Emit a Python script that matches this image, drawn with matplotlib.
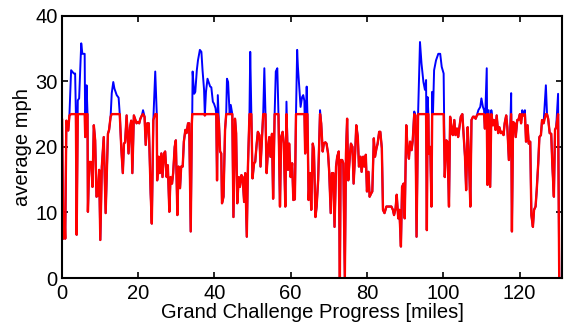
import matplotlib
matplotlib.use("Agg")
import matplotlib.pyplot as plt

# progress along the course (miles) and the two speed traces (mph)
miles = [0.0, 0.05, 0.4, 0.7, 0.9, 1.2, 1.7, 2.0, 2.45, 3.15, 3.5, 3.7, 3.9, 4.2, 4.55,
         5.1, 5.4, 6.0, 6.15, 6.5, 6.75, 6.85, 7.2, 7.7, 8.05, 8.4, 8.75, 9.1, 9.45,
         9.8, 10.1, 10.5, 11.0, 11.5, 12.1, 12.4, 12.8, 13.1, 13.5, 13.8, 14.4, 14.9,
         15.2, 15.6, 16.0, 16.3, 16.6, 17.0, 17.5, 17.9, 18.2, 18.5, 18.9, 19.2, 19.6,
         19.9, 20.3, 20.6, 21.0, 21.3, 21.7, 22.0, 22.4, 22.8, 23.3, 23.6, 24.0, 24.5,
         24.9, 25.0, 25.4, 25.7, 26.1, 26.4, 26.8, 27.1, 27.5, 27.8, 28.2, 28.5, 28.9,
         29.2, 29.6, 29.9, 30.3, 30.6, 31.0, 31.3, 31.7, 32.0, 32.4, 32.7, 33.1, 33.4,
         33.8, 34.1, 34.2, 34.3, 34.7, 35.0, 35.4, 35.7, 36.2, 36.6, 36.9, 37.3, 37.5,
         37.8, 38.2, 38.5, 38.9, 39.2, 39.6, 39.9, 40.3, 40.5, 40.7, 40.9, 41.2, 41.5,
         41.8, 42.0, 42.4, 42.8, 43.1, 43.3, 43.6, 44.0, 44.3, 44.7, 45.0, 45.4, 45.7,
         46.0, 46.4, 46.7, 47.1, 47.4, 47.8, 48.1, 48.5, 48.8, 49.2, 49.4, 49.7, 50.0,
         50.4, 50.7, 51.1, 51.4, 51.8, 52.1, 52.5, 52.8, 53.1, 53.4, 53.7, 54.1, 54.4,
         54.7, 55.1, 55.4, 55.8, 56.1, 56.5, 56.8, 57.2, 57.5, 57.9, 58.2, 58.6, 58.9,
         59.3, 59.6, 60.0, 60.4, 60.7, 61.1, 61.4, 61.7, 61.9, 62.3, 62.6, 63.0, 63.3,
         63.6, 63.8, 64.0, 64.2, 64.4, 64.7, 65.1, 65.4, 65.8, 66.1, 66.5, 66.8, 67.2,
         67.7, 68.0, 68.4, 68.7, 69.1, 69.4, 69.8, 70.1, 70.5, 70.8, 71.2, 71.5, 71.9,
         72.2, 72.6, 72.9, 73.1, 73.5, 73.8, 74.2, 74.5, 74.8, 75.1, 75.5, 75.8, 76.2,
         76.5, 76.9, 77.2, 77.6, 77.9, 78.3, 78.6, 79.0, 79.3, 79.7, 80.0, 80.4, 80.7,
         81.1, 81.4, 81.8, 82.1, 82.5, 82.8, 83.2, 83.5, 83.9, 84.2, 84.6, 85.1, 86.4,
         86.8, 87.1, 87.5, 87.8, 88.2, 88.5, 88.9, 89.2, 89.6, 89.9, 90.3, 90.6, 91.0,
         91.3, 91.7, 92.0, 92.4, 92.7, 93.0, 93.4, 93.9, 94.3, 94.8, 95.2, 95.5, 95.7,
         95.9, 96.1, 96.2, 96.6, 96.9, 97.1, 97.3, 97.6, 98.1, 98.7, 99.2, 99.6, 100.1,
         100.4, 100.8, 101.1, 101.5, 101.8, 102.2, 102.5, 102.9, 103.2, 103.6, 103.9,
         104.3, 104.6, 105.0, 105.3, 105.7, 106.0, 106.4, 106.7, 107.1, 107.4, 107.8,
         108.1, 108.5, 108.8, 109.2, 109.7, 110.0, 110.4, 110.7, 110.9, 111.4, 111.6,
         111.9, 112.3, 112.6, 113.0, 113.3, 113.7, 114.0, 114.4, 114.7, 115.1, 115.4,
         115.8, 116.1, 116.5, 116.8, 117.2, 117.5, 117.8, 118.0, 118.3, 118.7, 119.0,
         119.4, 119.7, 120.1, 120.4, 120.7, 121.0, 121.4, 121.7, 122.1, 122.4, 122.8,
         123.1, 123.5, 123.8, 124.2, 124.5, 124.9, 125.2, 125.6, 125.9, 126.3, 126.9,
         127.2, 127.5, 127.9, 128.3, 128.6, 129.0, 129.3, 129.6, 130.1, 130.3, 130.4]

avg_mph = [0, 24.3, 6.0, 9.5, 6.0, 24.0, 22.5, 24.8, 31.7, 31.2, 31.2, 25.0, 6.6, 27.1, 27.4,
           35.8, 34.2, 34.2, 21.5, 29.4, 25.0, 10.1, 17.7, 17.7, 13.9, 23.3, 21.0, 12.4, 12.6,
           16.5, 5.8, 17.0, 21.5, 9.9, 22.0, 22.6, 24.6, 28.2, 29.9, 28.9, 27.9, 27.5,
           25.0, 19.8, 16.0, 20.5, 20.7, 24.8, 19.0, 23.0, 24.0, 16.0, 24.8, 24.3, 23.6,
           23.8, 23.6, 24.3, 24.8, 25.6, 24.6, 20.3, 23.6, 23.6, 12.9, 8.3, 24.1, 31.5,
           25.0, 14.9, 18.5, 16.0, 19.0, 15.4, 19.0, 19.3, 15.4, 17.2, 10.1, 15.4, 14.4,
           16.0, 20.0, 21.0, 9.6, 17.0, 13.7, 17.0, 17.0, 20.8, 22.6, 22.1, 23.6, 23.6,
           7.1, 23.6, 25.0, 31.5, 28.1, 28.4, 31.7, 33.2, 34.8, 34.5, 31.7, 28.7, 24.8,
           28.4, 30.4, 29.9, 29.2, 29.1, 26.9, 26.6, 25.9, 25.0, 14.9, 27.9, 23.6, 19.3,
           19.0, 11.4, 12.4, 22.6, 25.0, 30.4, 29.9, 25.0, 26.4, 25.0, 9.3, 24.3, 22.1,
           11.4, 15.4, 13.9, 15.7, 15.4, 11.6, 16.0, 6.3, 17.0, 25.0, 34.5, 25.0, 15.2,
           17.5, 17.7, 20.5, 22.3, 21.8, 17.0, 21.5, 25.0, 32.0, 25.0, 16.0, 20.0, 21.5,
           18.5, 22.0, 12.1, 25.0, 31.5, 32.0, 25.0, 10.9, 21.5, 22.3, 20.5, 10.9, 26.9,
           16.5, 20.5, 15.4, 17.5, 11.9, 12.0, 25.0, 34.8, 32.2, 28.7, 26.1, 27.6, 27.9,
           27.0, 19.0, 25.0, 29.2, 25.0, 11.9, 16.0, 10.4, 20.5, 19.5, 9.3, 10.9, 14.9,
           25.6, 23.6, 19.3, 20.5, 20.7, 20.5, 19.0, 16.2, 9.9, 16.0, 16.0, 7.8, 17.0,
           18.5, 19.3, 0, 18.0, 18.0, 17.5, 0, 19.0, 24.3, 14.9, 18.5, 20.5, 20.0,
           14.4, 19.0, 23.3, 21.5, 17.0, 18.5, 16.2, 18.5, 17.0, 18.8, 13.2, 16.2, 12.4,
           12.9, 13.2, 21.3, 18.5, 19.8, 20.5, 22.3, 22.3, 19.8, 10.4, 9.9, 10.9, 10.9,
           10.4, 9.6, 10.6, 12.7, 9.1, 10.4, 4.8, 13.9, 14.4, 9.1, 23.3, 20.0, 18.2,
           20.8, 19.5, 21.0, 25.4, 24.8, 6.3, 25.0, 36.0, 32.7, 29.9, 28.7, 30.2, 7.3,
           27.6, 25.0, 19.0, 20.0, 10.9, 28.4, 25.0, 31.7, 33.2, 34.2, 34.2, 32.2, 31.2,
           15.4, 21.0, 20.8, 10.9, 24.6, 22.6, 21.8, 24.1, 21.8, 22.8, 21.5,
           23.3, 24.6, 25.0, 22.1, 18.5, 13.4, 23.0, 19.0, 10.9, 24.1, 24.6,
           24.6, 24.3, 24.8, 25.6, 26.1, 27.4, 26.1, 25.6, 22.8, 32.0, 14.2,
           25.6, 13.9, 25.6, 23.3, 24.1, 22.6, 24.8, 22.1, 23.0, 22.1, 22.3,
           21.8, 23.6, 24.8, 23.0, 18.0, 21.5, 28.2, 7.1, 23.8, 23.6, 21.5,
           24.1, 24.1, 25.0, 23.6, 25.6, 24.8, 25.6, 20.8, 23.3, 20.5, 20.8,
           9.6, 7.8, 10.4, 10.9, 13.4, 17.5, 21.5, 21.8, 24.1, 23.6, 29.4,
           25.0, 24.3, 22.1, 22.0, 17.2, 12.4, 22.6, 23.0, 28.1, 7.8, 0]

limited_mph = [0, 24.3, 6.0, 9.5, 6.0, 24.0, 22.5, 24.8, 25, 25, 25, 25.0, 6.6, 25, 25,
               25, 25, 25, 21.5, 25, 25.0, 10.1, 17.7, 17.7, 13.9, 23.3, 21.0, 12.4, 12.6,
               16.5, 5.8, 17.0, 21.5, 9.9, 22.0, 22.6, 24.6, 25, 25, 25, 25, 25,
               25.0, 19.8, 16.0, 20.5, 20.7, 24.8, 19.0, 23.0, 24.0, 16.0, 24.8, 24.3, 23.6,
               23.8, 23.6, 24.3, 24.8, 25, 24.6, 20.3, 23.6, 23.6, 12.9, 8.3, 24.1, 25,
               25.0, 14.9, 18.5, 16.0, 19.0, 15.4, 19.0, 19.3, 15.4, 17.2, 10.1, 15.4, 14.4,
               16.0, 20.0, 21.0, 9.6, 17.0, 13.7, 17.0, 17.0, 20.8, 22.6, 22.1, 23.6, 23.6,
               7.1, 23.6, 25.0, 25, 25, 25, 25, 25, 25, 25, 25, 25, 24.8,
               25, 25, 25, 25, 25, 25, 25, 25, 25.0, 14.9, 25, 23.6, 19.3,
               19.0, 11.4, 12.4, 22.6, 25.0, 25, 25, 25.0, 25, 25.0, 9.3, 24.3, 22.1,
               11.4, 15.4, 13.9, 15.7, 15.4, 11.6, 16.0, 6.3, 17.0, 25.0, 25, 25.0, 15.2,
               17.5, 17.7, 20.5, 22.3, 21.8, 17.0, 21.5, 25.0, 25, 25.0, 16.0, 20.0, 21.5,
               18.5, 22.0, 12.1, 25.0, 25, 25, 25.0, 10.9, 21.5, 22.3, 20.5, 10.9, 25,
               16.5, 20.5, 15.4, 17.5, 11.9, 12.0, 25.0, 25, 25, 25, 25, 25, 25,
               25, 19.0, 25.0, 25, 25.0, 11.9, 16.0, 10.4, 20.5, 19.5, 9.3, 10.9, 14.9,
               25, 23.6, 19.3, 20.5, 20.7, 20.5, 19.0, 16.2, 9.9, 16.0, 16.0, 7.8, 17.0,
               18.5, 19.3, 0, 18.0, 18.0, 17.5, 0, 19.0, 24.3, 14.9, 18.5, 20.5, 20.0,
               14.4, 19.0, 23.3, 21.5, 17.0, 18.5, 16.2, 18.5, 17.0, 18.8, 13.2, 16.2, 12.4,
               12.9, 13.2, 21.3, 18.5, 19.8, 20.5, 22.3, 22.3, 19.8, 10.4, 9.9, 10.9, 10.9,
               10.4, 9.6, 10.6, 12.7, 9.1, 10.4, 4.8, 13.9, 14.4, 9.1, 23.3, 20.0, 18.2,
               20.8, 19.5, 21.0, 25, 24.8, 6.3, 25.0, 25, 25, 25, 25, 25, 7.3,
               25, 25.0, 19.0, 20.0, 10.9, 25, 25.0, 25, 25, 25, 25, 25, 25,
               15.4, 21.0, 20.8, 10.9, 24.6, 22.6, 21.8, 24.1, 21.8, 22.8, 21.5,
               23.3, 24.6, 25.0, 22.1, 18.5, 13.4, 23.0, 19.0, 10.9, 24.1, 24.6,
               24.6, 24.3, 24.8, 25, 25, 25, 25, 25, 22.8, 25, 14.2,
               25, 13.9, 25, 23.3, 24.1, 22.6, 24.8, 22.1, 23.0, 22.1, 22.3,
               21.8, 23.6, 24.8, 23.0, 18.0, 21.5, 25, 7.1, 23.8, 23.6, 21.5,
               24.1, 24.1, 25.0, 23.6, 25, 24.8, 25, 20.8, 23.3, 20.5, 20.8,
               9.6, 7.8, 10.4, 10.9, 13.4, 17.5, 21.5, 21.8, 24.1, 23.6, 25,
               25.0, 24.3, 22.1, 22.0, 17.2, 12.4, 22.6, 23.0, 25, 7.8, 0]

plt.rcParams['font.family'] = ['Liberation Sans', 'DejaVu Sans']

fig = plt.figure(figsize=(5.72, 3.29), dpi=100)
ax = fig.add_axes([0.108, 0.155, 0.875, 0.797])

ax.plot(miles, avg_mph, color='#0000ff', linewidth=1.4)
ax.plot(miles, limited_mph, color='#ff0000', linewidth=1.7)

ax.set_xlim(0, 131.2)
ax.set_ylim(0, 40)
ax.set_xticks([0, 20, 40, 60, 80, 100, 120])
ax.set_yticks([0, 10, 20, 30, 40])
ax.tick_params(direction='in', top=True, right=True, length=4, width=1.2,
               labelsize=14.5)
ax.tick_params(axis='x', pad=4)
ax.tick_params(axis='y', pad=3)
for s in ax.spines.values():
    s.set_linewidth(1.5)

ax.set_xlabel('Grand Challenge Progress [miles]', fontsize=14.5, labelpad=0)
ax.set_ylabel('average mph', fontsize=14.5, labelpad=2)

fig.savefig('out.png', dpi=100)
